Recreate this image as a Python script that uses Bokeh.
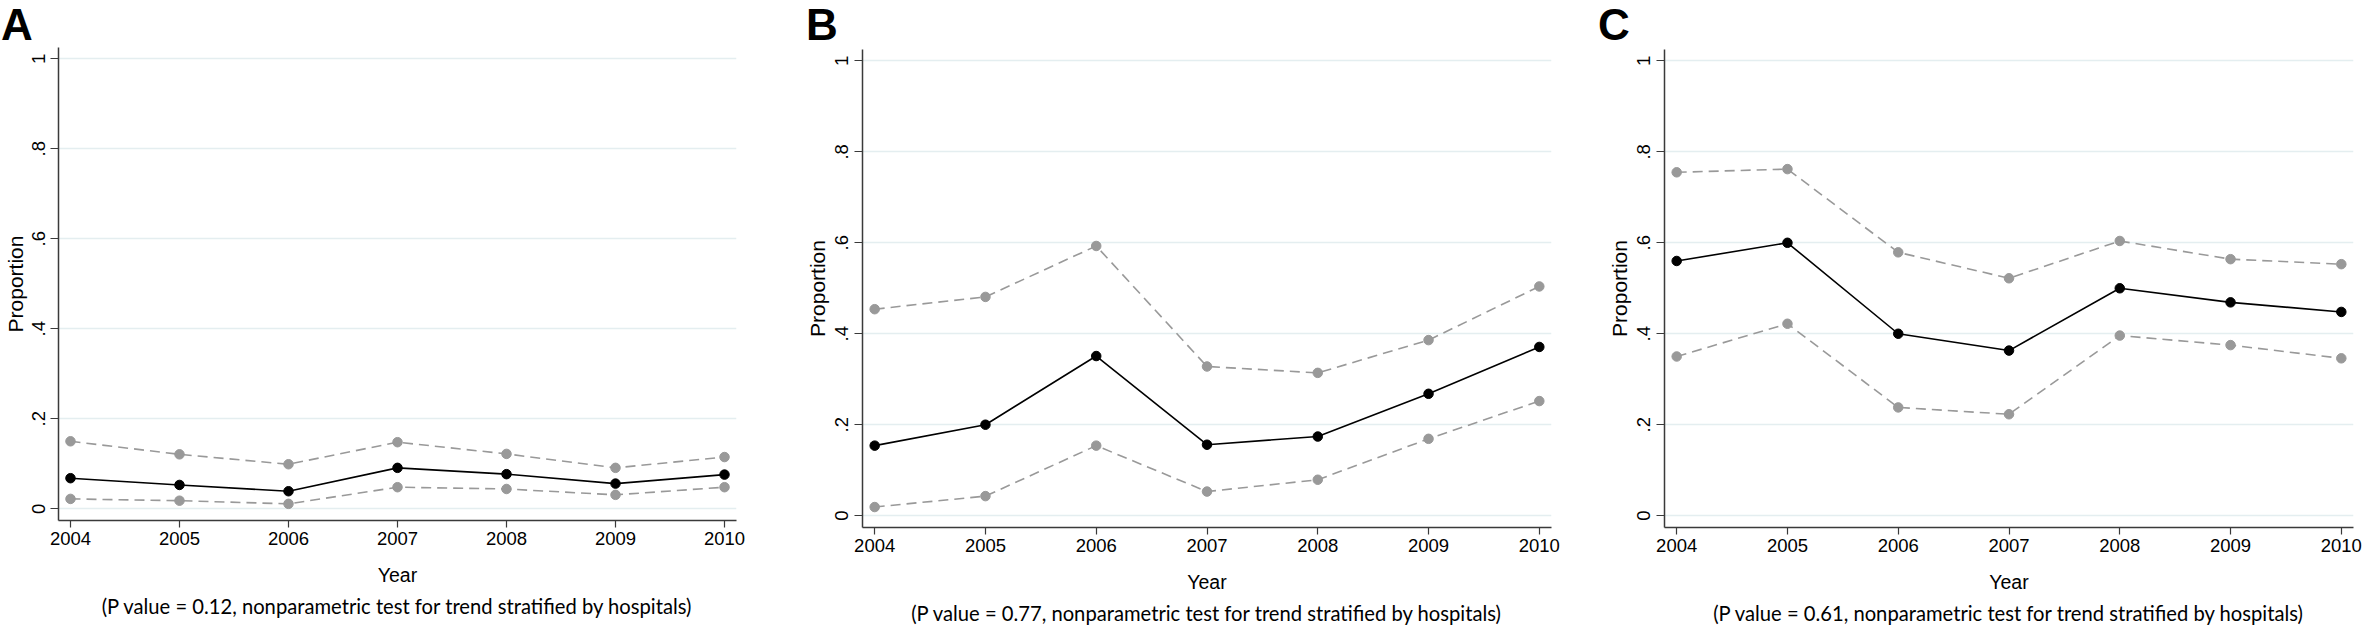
from bokeh.plotting import figure
from bokeh.layouts import row, column
from bokeh.models import Range1d, FixedTicker, Title, Div
from bokeh.embed import file_html
from bokeh.resources import INLINE

# ---------------- data ----------------
years = [2004, 2005, 2006, 2007, 2008, 2009, 2010]
y_ticks = [0, 0.2, 0.4, 0.6, 0.8, 1.0]
y_tick_labels = ["0", ".2", ".4", ".6", ".8", "1"]

a_mean = [0.068, 0.053, 0.039, 0.091, 0.077, 0.056, 0.076]
a_upper = [0.150, 0.121, 0.099, 0.148, 0.122, 0.091, 0.115]
a_lower = [0.022, 0.018, 0.011, 0.048, 0.044, 0.031, 0.048]

b_mean = [0.154, 0.200, 0.351, 0.156, 0.174, 0.268, 0.371]
b_upper = [0.454, 0.481, 0.593, 0.328, 0.314, 0.386, 0.504]
b_lower = [0.019, 0.043, 0.154, 0.053, 0.079, 0.169, 0.252]

c_mean = [0.560, 0.600, 0.400, 0.363, 0.500, 0.469, 0.448]
c_upper = [0.755, 0.762, 0.579, 0.522, 0.604, 0.564, 0.553]
c_lower = [0.350, 0.422, 0.238, 0.223, 0.396, 0.375, 0.346]

panel_letters = ["A", "B", "C"]
notes = [
    "(P value = 0.12, nonparametric test for trend stratified by hospitals)",
    "(P value = 0.77, nonparametric test for trend stratified by hospitals)",
    "(P value = 0.61, nonparametric test for trend stratified by hospitals)",
]
x_label = "Year"
y_label = "Proportion"

# ---------------- styling ----------------
AX_FONT = "Liberation Sans"
NOTE_FONT = "Lato"
AXIS_COLOR = "#3a3a3a"
GRID_COLOR = "#e4eef0"
CI_COLOR = "#999999"
MEAN_COLOR = "#000000"
LETTER_H = 40


def make_panel(letter, mean, lower, upper, note, width, plot_h,
               bl, br, bt, bb, lbl_standoff, axlbl_standoff,
               letter_pad, note_standoff):
    p = figure(width=width, height=plot_h,
               x_range=Range1d(2003.89, 2010.11),
               y_range=Range1d(-0.026, 1.025),
               output_backend="svg", toolbar_location=None,
               min_border_left=bl, min_border_right=br,
               min_border_top=bt, min_border_bottom=bb)
    p.outline_line_color = None
    p.background_fill_color = "white"
    p.border_fill_color = "white"

    # grid
    p.xgrid.visible = False
    p.ygrid.ticker = FixedTicker(ticks=y_ticks)
    p.ygrid.grid_line_color = GRID_COLOR
    p.ygrid.grid_line_width = 1.5

    # x axis
    xa = p.xaxis[0]
    xa.ticker = FixedTicker(ticks=years)
    xa.major_label_overrides = {y: str(y) for y in years}
    xa.axis_label = x_label
    xa.axis_label_text_font = AX_FONT
    xa.axis_label_text_font_size = "19.5px"
    xa.axis_label_text_font_style = "normal"
    xa.axis_label_text_color = "#000000"
    xa.axis_label_standoff = 16
    xa.major_label_text_font = AX_FONT
    xa.major_label_text_font_size = "18.5px"
    xa.major_label_text_color = "#000000"
    xa.major_label_standoff = 4
    xa.major_tick_out = 7
    xa.major_tick_in = 0
    xa.minor_tick_line_color = None
    xa.axis_line_color = AXIS_COLOR
    xa.axis_line_width = 1.5
    xa.major_tick_line_color = AXIS_COLOR
    xa.major_tick_line_width = 1.2

    # y axis
    ya = p.yaxis[0]
    ya.ticker = FixedTicker(ticks=y_ticks)
    ya.major_label_overrides = {t: l for t, l in zip(y_ticks, y_tick_labels)}
    ya.major_label_orientation = "vertical"
    ya.axis_label = y_label
    ya.axis_label_text_font = AX_FONT
    ya.axis_label_text_font_size = "21px"
    ya.axis_label_text_font_style = "normal"
    ya.axis_label_text_color = "#000000"
    ya.axis_label_standoff = axlbl_standoff
    ya.major_label_text_font = AX_FONT
    ya.major_label_text_font_size = "18.5px"
    ya.major_label_text_color = "#000000"
    ya.major_label_standoff = lbl_standoff
    ya.major_tick_out = 8
    ya.major_tick_in = 0
    ya.minor_tick_line_color = None
    ya.axis_line_color = AXIS_COLOR
    ya.axis_line_width = 1.5
    ya.major_tick_line_color = AXIS_COLOR
    ya.major_tick_line_width = 1.2

    # confidence bounds
    for series in (upper, lower):
        p.line(years, series, line_color=CI_COLOR, line_width=1.6, line_dash="10 6")
        p.scatter(years, series, size=9.5, fill_color=CI_COLOR, line_color=CI_COLOR)
    # mean
    p.line(years, mean, line_color=MEAN_COLOR, line_width=1.6)
    p.scatter(years, mean, size=9.5, fill_color=MEAN_COLOR, line_color=MEAN_COLOR)

    # footnote
    p.add_layout(Title(text=note, align="center", offset=-17, standoff=note_standoff,
                       text_font=NOTE_FONT, text_font_size="20.2px",
                       text_font_style="normal", text_color="#000000"), "below")

    head = Div(text=letter, width=width, height=LETTER_H, margin=0,
               styles={"font-family": "Liberation Sans", "font-size": "44px",
                       "font-weight": "bold", "line-height": "normal",
                       "padding-left": f"{letter_pad}px", "color": "#000000",
                       "overflow": "visible"})
    return column(head, p, spacing=0)


PH = 627 - LETTER_H
pA = make_panel(panel_letters[0], a_mean, a_lower, a_upper, notes[0],
                800, PH, 57, 64, 47 - LETTER_H, PH - (47 - LETTER_H) - 473, 5, 3, 1, 6)
pB = make_panel(panel_letters[1], b_mean, b_lower, b_upper, notes[1],
                790, PH, 62, 39, 49 - LETTER_H, PH - (49 - LETTER_H) - 479, 6, 4, 6, 6)
pC = make_panel(panel_letters[2], c_mean, c_lower, c_upper, notes[2],
                772, PH, 74, 9, 49 - LETTER_H, PH - (49 - LETTER_H) - 479, 6, 4, 8, 6)

layout = row(pA, pB, pC, spacing=0)
open("out.html", "w").write(file_html(layout, INLINE))
